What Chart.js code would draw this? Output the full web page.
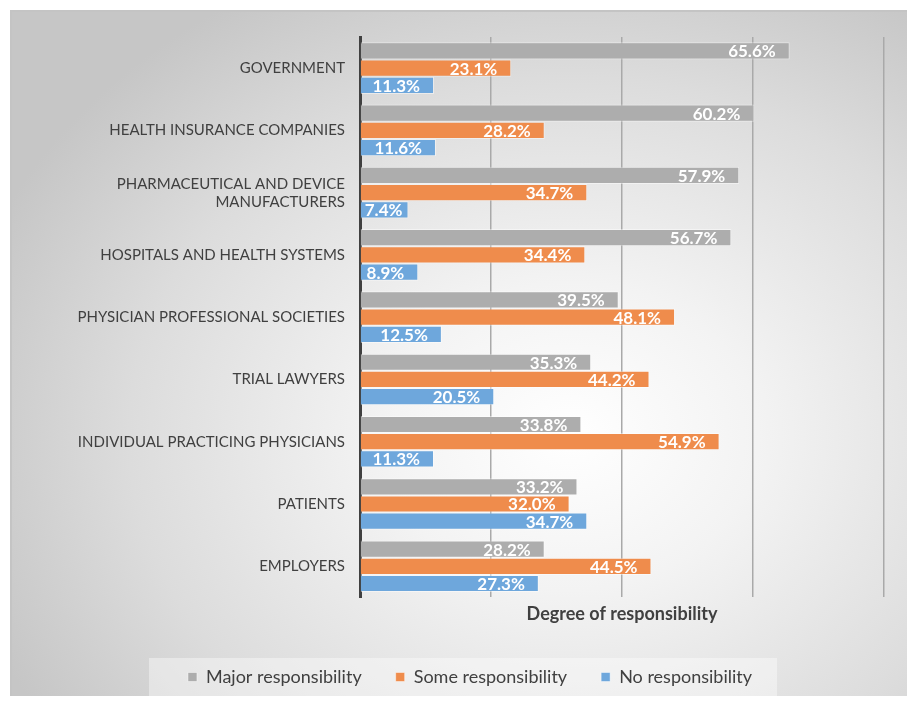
<!DOCTYPE html>
<html>
<head>
<meta charset="utf-8">
<script src="https://cdn.jsdelivr.net/npm/chart.js@4.4.1/dist/chart.umd.min.js"></script>
<style>
  html, body { margin: 0; padding: 0; background: #fff; }
  #wrap { position: relative; width: 907px; height: 703px; overflow: hidden; }
  #bg {
    position: absolute; left: 10px; top: 10px; width: 900px; height: 684px;
    border-top: 2px solid #c4c4c4; border-left: 2px solid #c4c4c4;
    background: radial-gradient(ellipse 70% 75% at 62% 62%, #ffffff 0%, #f3f3f3 30%, #dcdcdc 70%, #c6c6c6 100%);
  }
  #dataChart { position: absolute; left: 0; top: 0; }
</style>
</head>
<body>
<div id="wrap">
  <div id="bg"></div>
  <canvas id="dataChart" width="907" height="703"></canvas>
</div>
<script>
// Kategorie a hodnoty (v %)
const categories = [
  'GOVERNMENT',
  'HEALTH INSURANCE COMPANIES',
  ['PHARMACEUTICAL AND DEVICE', 'MANUFACTURERS'],
  'HOSPITALS AND HEALTH SYSTEMS',
  'PHYSICIAN PROFESSIONAL SOCIETIES',
  'TRIAL LAWYERS',
  'INDIVIDUAL PRACTICING PHYSICIANS',
  'PATIENTS',
  'EMPLOYERS'
];
const majorResponsibility = [65.6, 60.2, 57.9, 56.7, 39.5, 35.3, 33.8, 33.2, 28.2];
const someResponsibility  = [23.1, 28.2, 34.7, 34.4, 48.1, 44.2, 54.9, 32.0, 44.5];
const noResponsibility    = [11.3, 11.6, 7.4, 8.9, 12.5, 20.5, 11.3, 34.7, 27.3];
const xTicks = [0, 20, 40, 60, 80];

const FONT = 'Lato, "Open Sans", sans-serif';
const TEXT = '#404040';

// Popisky hodnot uvnitř konce sloupců
const barLabels = {
  id: 'barLabels',
  afterDatasetsDraw(chart) {
    const ctx = chart.ctx;
    ctx.save();
    ctx.font = 'bold 17px ' + FONT;
    ctx.fillStyle = '#ffffff';
    ctx.textAlign = 'right';
    ctx.textBaseline = 'middle';
    chart.data.datasets.forEach((ds, i) => {
      chart.getDatasetMeta(i).data.forEach((bar, j) => {
        const txt = ds.data[j].toFixed(1) + '%';
        const w = ctx.measureText(txt).width;
        const x = Math.max(bar.x - 14, bar.base + 4 + w);
        ctx.fillText(txt, x, bar.y + 1);
      });
    });
    ctx.restore();
  }
};

// Světlý podklad legendy
const legendBox = {
  id: 'legendBox',
  beforeDraw(chart) {
    const boxes = chart.legend && chart.legend.legendHitBoxes;
    if (!boxes || !boxes.length) return;
    const first = boxes[0], last = boxes[boxes.length - 1];
    const ctx = chart.ctx;
    ctx.save();
    ctx.fillStyle = 'rgba(255,255,255,0.4)';
    const cy = first.top + first.height / 2;
    ctx.fillRect(first.left - 39, cy - 19, (last.left + last.width) - first.left + 64, 38);
    ctx.restore();
  }
};

function makeDataset(label, data, color) {
  return {
    label: label,
    data: data,
    backgroundColor: color,
    borderColor: 'rgba(255,255,255,0.45)',
    borderWidth: 1,
    categoryPercentage: 0.83,
    barPercentage: 1.0
  };
}

const ctx = document.getElementById('dataChart').getContext('2d');
const dataChart = new Chart(ctx, {
  type: 'bar',
  data: {
    labels: categories,
    datasets: [
      makeDataset('Major responsibility', majorResponsibility, '#adadad'),
      makeDataset('Some responsibility', someResponsibility, '#ef8c4c'),
      makeDataset('No responsibility', noResponsibility, '#6ea7dc')
    ]
  },
  options: {
    indexAxis: 'y',
    responsive: false,
    animation: false,
    layout: { padding: { top: 37, left: 56, right: 23, bottom: 7 } },
    scales: {
      x: {
        min: xTicks[0],
        max: xTicks[xTicks.length - 1],
        afterBuildTicks(scale) { scale.ticks = xTicks.map(v => ({ value: v })); },
        ticks: { display: false },
        grid: { color: '#a9a9a9', lineWidth: 1.5, drawTicks: false },
        border: { display: false },
        title: {
          display: true,
          text: 'Degree of responsibility',
          color: TEXT,
          font: { family: FONT, size: 18, weight: 'bold' },
          padding: { top: 6, bottom: 9 }
        }
      },
      y: {
        afterFit(scale) { scale.width = 304; },
        ticks: {
          color: TEXT,
          font: { family: FONT, size: 15 },
          padding: 15
        },
        grid: { display: false, drawTicks: false },
        border: { display: true, color: '#404040', width: 3 }
      }
    },
    plugins: {
      legend: {
        position: 'bottom',
        labels: {
          color: TEXT,
          font: { family: FONT, size: 18 },
          boxWidth: 9,
          boxHeight: 9,
          padding: 34,
          useBorderRadius: false
        }
      },
      tooltip: { enabled: false }
    }
  },
  plugins: [barLabels, legendBox]
});
</script>
</body>
</html>
